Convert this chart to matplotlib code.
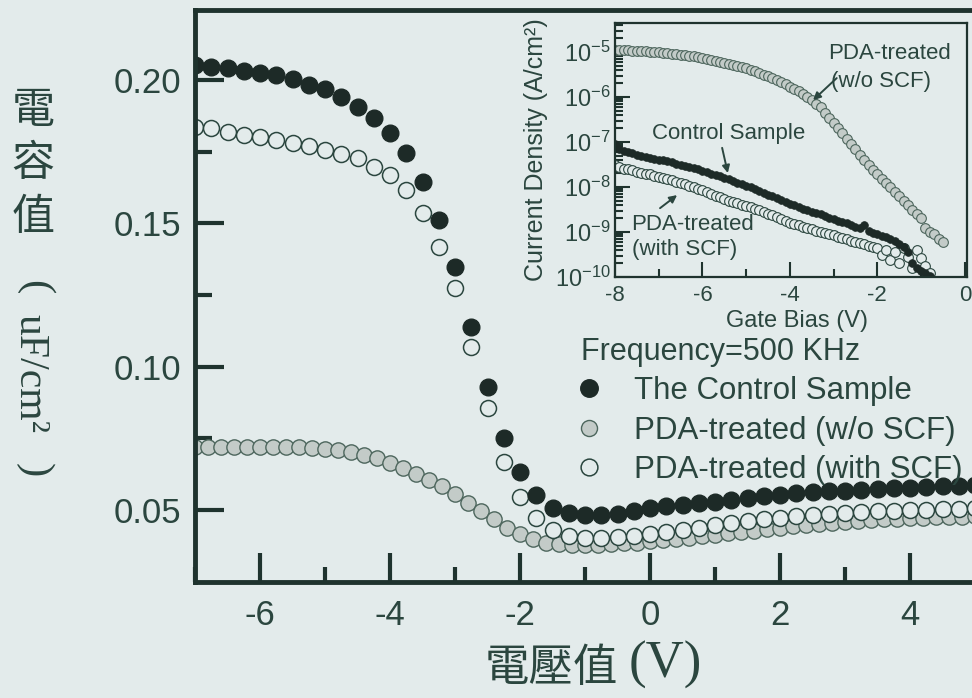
import numpy as np
import matplotlib
matplotlib.use("Agg")
import matplotlib.pyplot as plt
from matplotlib.ticker import MultipleLocator, FixedLocator, FormatStrFormatter, LogLocator, NullFormatter

plt.rcParams['font.family'] = ['Liberation Sans', 'Noto Sans CJK TC', 'DejaVu Sans']
plt.rcParams['axes.unicode_minus'] = False

# ---------------- main C-V data (F = 500 kHz) ----------------
bias_025 = np.arange(-7.0, 5.001, 0.25)      # sweep step of control / with-SCF samples
bias_020 = np.arange(-7.0, 5.001, 0.20)      # sweep step of w/o-SCF sample

cap_control = [0.2052, 0.2046, 0.2041, 0.2032, 0.2023, 0.2017, 0.2002, 0.1983, 0.1968,
               0.1942, 0.1907, 0.1866, 0.1816, 0.1744, 0.1645, 0.1511, 0.1349, 0.1139,
               0.0930, 0.0750, 0.0633, 0.0552, 0.0505, 0.0488, 0.0482, 0.0482, 0.0487,
               0.0495, 0.0506, 0.0512, 0.0518, 0.0523, 0.0529, 0.0535, 0.0541, 0.0547,
               0.0553, 0.0558, 0.0562, 0.0565, 0.0567, 0.0569, 0.0572, 0.0575, 0.0578,
               0.0581, 0.0583, 0.0585, 0.0587]

cap_with_scf = [0.1837, 0.1831, 0.1820, 0.1808, 0.1800, 0.1791, 0.1781, 0.1770, 0.1756,
                0.1742, 0.1727, 0.1697, 0.1668, 0.1616, 0.1535, 0.1418, 0.1273, 0.1069,
                0.0854, 0.0668, 0.0546, 0.0470, 0.0430, 0.0409, 0.0401, 0.0402, 0.0405,
                0.0410, 0.0416, 0.0424, 0.0431, 0.0438, 0.0446, 0.0454, 0.0461, 0.0467,
                0.0472, 0.0477, 0.0481, 0.0485, 0.0489, 0.0493, 0.0495, 0.0497, 0.0499,
                0.0500, 0.0502, 0.0504, 0.0505]

cap_wo_scf = [0.0720, 0.0720, 0.0720, 0.0720, 0.0720, 0.0720, 0.0720, 0.0719, 0.0718,
              0.0716, 0.0713, 0.0709, 0.0703, 0.0693, 0.0680, 0.0664, 0.0647, 0.0627,
              0.0605, 0.0582, 0.0554, 0.0525, 0.0496, 0.0467, 0.0438, 0.0417, 0.0398,
              0.0386, 0.0380, 0.0378, 0.0378, 0.0379, 0.0381, 0.0383, 0.0386, 0.0390,
              0.0394, 0.0398, 0.0403, 0.0408, 0.0413, 0.0418, 0.0423, 0.0428, 0.0433,
              0.0438, 0.0443, 0.0447, 0.0451, 0.0455, 0.0459, 0.0462, 0.0465, 0.0467,
              0.0469, 0.0471, 0.0472, 0.0474, 0.0475, 0.0476, 0.0477]

# ---------------- inset J-V data (log10 of A/cm^2) ----------------
gate_bias = np.round(np.arange(-8.0, -0.45, 0.1), 2)

logj_wo_scf = [-4.96, -4.96, -4.96, -4.96, -4.97, -4.97, -4.97, -4.98, -4.99, -5.00,
               -5.01, -5.02, -5.03, -5.04, -5.05, -5.06, -5.07, -5.09, -5.10, -5.12,
               -5.14, -5.16, -5.18, -5.20, -5.22, -5.24, -5.26, -5.29, -5.31, -5.34,
               -5.36, -5.39, -5.43, -5.46, -5.50, -5.54, -5.58, -5.63, -5.67, -5.72,
               -5.77, -5.82, -5.87, -5.93, -6.00, -6.07, -6.15, -6.23, -6.35, -6.46,
               -6.58, -6.69, -6.81, -6.93, -7.04, -7.16, -7.28, -7.40, -7.51, -7.62,
               -7.72, -7.82, -7.91, -8.01, -8.11, -8.21, -8.31, -8.40, -8.50, -8.60,
               -8.70, -8.90, -9.00, -9.05, -9.15, -9.22]

logj_control = [-7.05, -7.15, -7.19, -7.22, -7.25, -7.28, -7.30, -7.33, -7.35, -7.37,
                -7.39, -7.41, -7.43, -7.45, -7.48, -7.50, -7.53, -7.55, -7.58, -7.61,
                -7.64, -7.67, -7.70, -7.73, -7.76, -7.79, -7.83, -7.86, -7.90, -7.94,
                -7.97, -8.01, -8.05, -8.09, -8.13, -8.17, -8.21, -8.25, -8.29, -8.33,
                -8.37, -8.41, -8.44, -8.48, -8.51, -8.55, -8.58, -8.61, -8.65, -8.68,
                -8.71, -8.75, -8.78, -8.81, -8.85, -8.88, -8.92, -8.85, -8.98, -9.02,
                -9.05, -9.09, -9.12, -9.16, -9.20, -9.26, -9.33, -9.45, -9.70, -9.80,
                -9.86, -9.92, -9.98, -10.2, -10.3, -10.4]

logj_with_scf = [-7.50, -7.56, -7.59, -7.61, -7.63, -7.66, -7.68, -7.70, -7.72, -7.75,
                 -7.77, -7.80, -7.83, -7.85, -7.88, -7.91, -7.94, -7.97, -8.00, -8.04,
                 -8.07, -8.11, -8.15, -8.19, -8.23, -8.27, -8.30, -8.33, -8.36, -8.39,
                 -8.42, -8.45, -8.48, -8.51, -8.55, -8.59, -8.63, -8.67, -8.71, -8.75,
                 -8.79, -8.82, -8.85, -8.88, -8.91, -8.94, -8.97, -8.99, -9.02, -9.05,
                 -9.07, -9.10, -9.13, -9.16, -9.19, -9.22, -9.25, -9.27, -9.30, -9.33,
                 -9.36, -9.52, -9.40, -9.62, -9.45, -9.70, -9.35, -9.55, -9.80, -9.40,
                 -9.58, -9.75, -9.90, -10.2, -10.3, -10.4]

legend_title = 'Frequency=500 KHz'
legend_labels = ['The Control Sample', 'PDA-treated (w/o SCF)', 'PDA-treated (with SCF)']

# ---------------- style ----------------
BG = '#e3ebeb'
INK = '#2b463f'
SPINE = '#1f332e'
DARK = '#1d2a27'
GREY = '#c3cbc8'
GREY_EDGE = '#4d665d'

W, H = 972, 698
fig = plt.figure(figsize=(W / 100, H / 100), dpi=100, facecolor=BG)

# main axes
ax = fig.add_axes([195 / W, 1 - 582 / H, (W - 195) / W, (582 - 10) / H])
ax.set_facecolor(BG)
ax.set_xlim(-7.0, -7.0 + (W - 195) / 65.0)
ax.set_ylim(0.20 - (582 - 80) * 0.05 / 143.3, 0.20 + (80 - 10) * 0.05 / 143.3)

l_wo, = ax.plot(bias_020, cap_wo_scf, 'o', ms=11, mfc=GREY, mec=GREY_EDGE, mew=1.0, zorder=2.1)
l_with, = ax.plot(bias_025, cap_with_scf, 'o', ms=11.5, mfc=BG, mec=INK, mew=1.1, zorder=2.2)
l_ctrl, = ax.plot(bias_025, cap_control, 'o', ms=12, mfc=DARK, mec=DARK, mew=1.0, zorder=2.3)

for s in ['left', 'top', 'bottom']:
    ax.spines[s].set_linewidth(3.5)
    ax.spines[s].set_color(SPINE)
ax.spines['right'].set_visible(False)

ax.xaxis.set_major_locator(MultipleLocator(2))
ax.xaxis.set_minor_locator(MultipleLocator(1))
ax.yaxis.set_major_locator(FixedLocator([0.05, 0.10, 0.15, 0.20]))
ax.yaxis.set_minor_locator(FixedLocator([0.075, 0.125, 0.175]))
ax.yaxis.set_major_formatter(FormatStrFormatter('%.2f'))
ax.tick_params(which='both', direction='in', color=SPINE, width=3, top=False, right=False,
               labelcolor=INK, labelsize=25)
ax.tick_params(axis='x', which='major', length=21, pad=12)
ax.tick_params(axis='x', which='minor', length=11)
ax.tick_params(axis='y', which='major', length=21, pad=10)
ax.tick_params(axis='y', which='minor', length=12)

leg = ax.legend([l_ctrl, l_wo, l_with], legend_labels, title=legend_title,
                loc='upper left', bbox_to_anchor=(581 / W, 1 - 337 / H),
                bbox_transform=fig.transFigure, frameon=False, fontsize=22.5,
                title_fontsize=22, markerscale=1.05, handlelength=0.5,
                handletextpad=1.2, labelspacing=0.3, borderpad=0, borderaxespad=0,
                alignment='left', labelcolor=INK)
leg.get_title().set_color(INK)

# main axis labels: upright CJK characters stacked (vertical writing), unit rotated
for ch, yy in zip('電容值', [111, 164, 218]):
    fig.text(33 / W, 1 - yy / H, ch, ha='center', va='center', fontsize=31,
             family=['Noto Sans CJK TC'], color=INK)
fig.text(34 / W, 1 - 287 / H, '(', rotation=270, ha='center', va='center',
         fontsize=31, family=['Liberation Serif'], color=INK)
fig.text(30 / W, 1 - 374 / H, 'uF/cm²', rotation=270, ha='center', va='center',
         fontsize=30, family=['Liberation Serif'], color=INK)
fig.text(34 / W, 1 - 470 / H, ')', rotation=270, ha='center', va='center',
         fontsize=31, family=['Liberation Serif'], color=INK)
fig.text(551 / W, 1 - 668 / H, '電壓值', ha='center', va='center', fontsize=32,
         family=['Noto Sans CJK TC'], color=INK)
fig.text(665 / W, 1 - 665 / H, '(V)', ha='center', va='center', fontsize=38,
         family=['Liberation Serif'], color=INK)

# ---------------- inset ----------------
axin = fig.add_axes([615 / W, 1 - 277 / H, 352 / W, (277 - 23) / H])
axin.set_facecolor(BG)
axin.set_yscale('log')
axin.set_xlim(-8, 0.05)
axin.set_ylim(1e-10, 10 ** (-10 + (277 - 23) / 45.0))

j_wo = 10.0 ** np.array(logj_wo_scf)
j_ctrl = 10.0 ** np.array(logj_control)
j_with = 10.0 ** np.array(logj_with_scf)
axin.plot(gate_bias, j_wo, 'o', ms=7, mfc=GREY, mec=GREY_EDGE, mew=0.8)
axin.plot(gate_bias, j_with, 'o', ms=7, mfc=BG, mec=INK, mew=0.8)
axin.plot(gate_bias, j_ctrl, 'o', ms=5.5, mfc=DARK, mec=DARK, mew=0.6)

for s in axin.spines.values():
    s.set_linewidth(1.6)
    s.set_color(SPINE)
axin.xaxis.set_major_locator(MultipleLocator(2))
axin.xaxis.set_minor_locator(MultipleLocator(1))
axin.yaxis.set_major_locator(LogLocator(base=10, numticks=20))
axin.yaxis.set_minor_locator(LogLocator(base=10, subs=np.arange(2, 10), numticks=20))
axin.yaxis.set_minor_formatter(NullFormatter())
axin.tick_params(which='both', direction='in', color=SPINE, width=1.5, top=False, right=False,
                 labelcolor=INK)
axin.tick_params(which='major', length=11)
axin.tick_params(which='minor', length=6)
axin.tick_params(axis='x', labelsize=16, pad=6)
axin.tick_params(axis='y', labelsize=17, pad=3)

axin.set_xlabel('Gate Bias (V)', fontsize=17, color=INK)
axin.xaxis.set_label_coords(0.517, -0.13)
axin.set_ylabel('Current Density (A/cm²)', fontsize=18, color=INK)
axin.yaxis.set_label_coords(-0.19, 0.5)

axin.text(-3.12, 10 ** -5.03, 'PDA-treated', fontsize=16, color=INK, ha='left', va='center')
axin.text(-3.05, 10 ** -5.66, '(w/o SCF)', fontsize=16, color=INK, ha='left', va='center')
axin.text(-7.16, 10 ** -6.81, 'Control Sample', fontsize=16, color=INK, ha='left', va='center')
axin.text(-7.62, 10 ** -8.84, 'PDA-treated', fontsize=16, color=INK, ha='left', va='center')
axin.text(-7.62, 10 ** -9.40, '(with SCF)', fontsize=16, color=INK, ha='left', va='center')

arrow = dict(arrowstyle='-|>', color=INK, lw=1.4, mutation_scale=11, shrinkA=0, shrinkB=0)
axin.annotate('', xy=(-3.47, 10 ** -6.07), xytext=(-2.93, 10 ** -5.58), arrowprops=arrow)
axin.annotate('', xy=(-5.42, 10 ** -7.69), xytext=(-5.55, 10 ** -7.13), arrowprops=arrow)
axin.annotate('', xy=(-6.58, 10 ** -8.18), xytext=(-6.97, 10 ** -8.47), arrowprops=arrow)

fig.savefig('out.png', dpi=100, facecolor=BG)
